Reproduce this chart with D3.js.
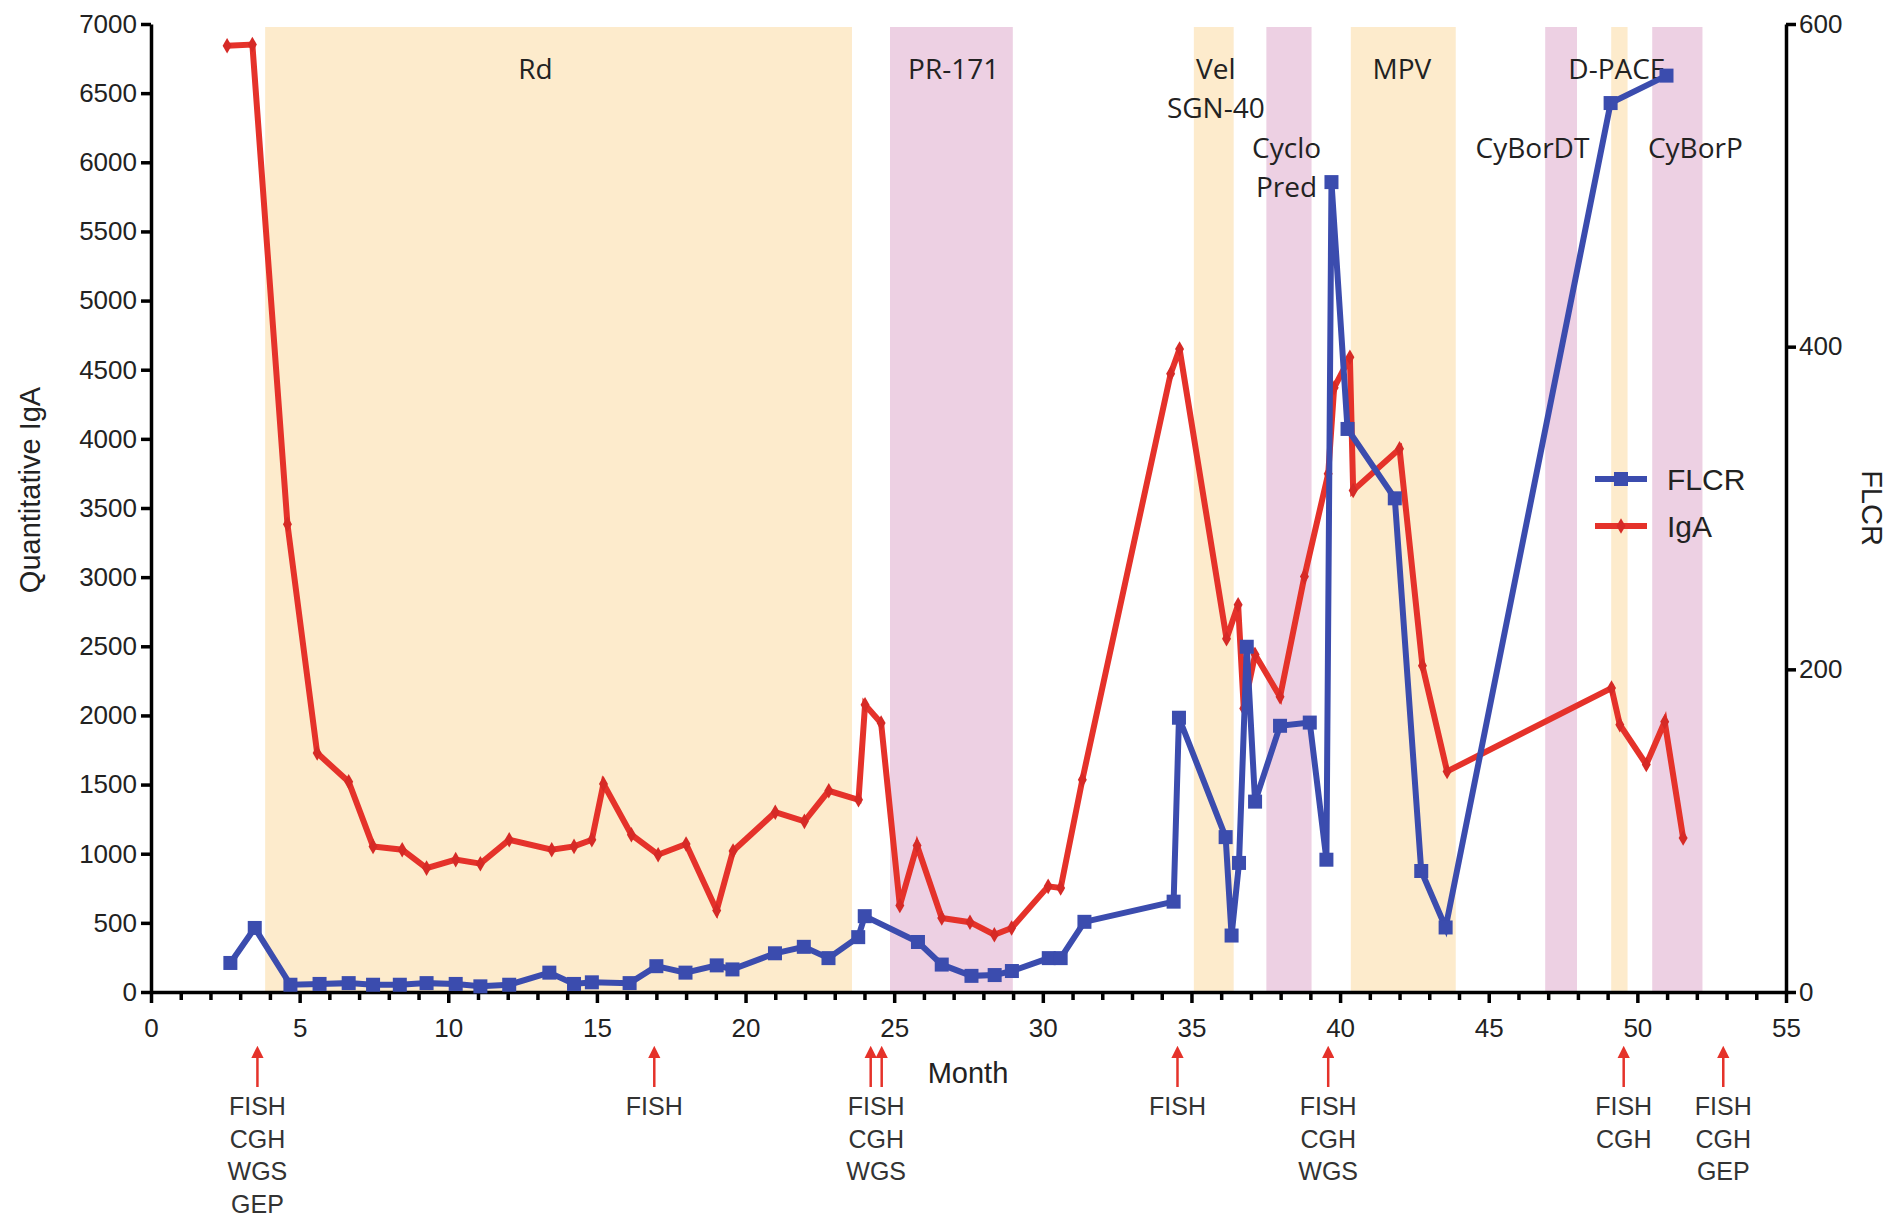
<!DOCTYPE html>
<html>
<head>
<meta charset="utf-8">
<script src="https://cdn.jsdelivr.net/npm/d3@7/dist/d3.min.js"></script>
<style>
  body { margin: 0; background: #fff; }
  svg { display: block; }
</style>
</head>
<body>
<svg id="chart"></svg>
<script>
// IgA (left axis) readings, month / value
var igaMonths = [2.56, 3.41, 4.59, 5.59, 6.65, 7.47, 8.45, 9.27, 10.25, 11.08, 12.05, 13.48, 14.23, 14.83, 15.22,
  16.16, 17.06, 18.0, 19.03, 19.58, 21.0, 21.98, 22.8, 23.8, 24.02, 24.56, 25.19, 25.77, 26.6, 27.55, 28.37,
  28.95, 30.18, 30.6, 31.33, 34.3, 34.6, 36.18, 36.57, 36.76, 37.14, 37.98, 38.8, 39.6, 39.8, 40.33, 40.44,
  42.0, 42.77, 43.6, 49.13, 49.41, 50.3, 50.92, 51.54];
var igaValues = [6843, 6851, 3382, 1728, 1520, 1053, 1029, 896, 957, 928, 1101, 1029, 1053, 1101, 1505,
  1137, 993, 1070, 590, 1020, 1300, 1234, 1455, 1390, 2077, 1945, 625, 1060, 535, 505, 414,
  463, 764, 752, 1535, 4470, 4650, 2555, 2800, 2050, 2440, 2135, 3005, 3747, 4370, 4590, 3627,
  3928, 2360, 1595, 2198, 1933, 1645, 1954, 1113];

// FLCR (right axis) readings
var flcrMonths = [2.67, 3.49, 4.69, 5.67, 6.65, 7.47, 8.37, 9.27, 10.25, 11.08, 12.05, 13.4, 14.23, 14.83,
  16.1, 17.0, 17.98, 19.03, 19.56, 20.99, 21.96, 22.79, 23.79, 24.01, 25.8, 26.6, 27.6, 28.38, 28.96, 30.2,
  30.6, 31.4, 34.4, 34.58, 36.15, 36.35, 36.6, 36.86, 37.14, 37.98, 38.98, 39.54, 39.71, 40.25, 41.84,
  42.73, 43.55, 49.1, 50.98];
var flcrValues = [18, 39.7, 4.5, 5, 5.5, 4.5, 4.5, 5.5, 5, 3.5, 4.5, 12, 5, 6,
  5.5, 16, 12, 16.5, 14, 24, 28, 21, 34, 47, 31, 17, 10, 10.5, 13, 21,
  21, 43.5, 56, 170, 96, 35, 80, 214, 118, 165, 167, 82, 502, 349, 306,
  75, 40, 551, 568];

// treatment regimens (month ranges)
var regimenNames = ["Rd", "PR-171", "Vel|SGN-40", "Cyclo|Pred", "MPV", "CyBorDT", "D-PACE", "CyBorP"];
var regimenStart = [3.84, 24.86, 35.08, 37.52, 40.36, 46.9, 49.12, 50.5];
var regimenEnd = [23.58, 28.99, 36.42, 39.04, 43.89, 47.97, 49.67, 52.19];
var regimenLabelMonth = [12.93, 27.0, 35.82, 38.2, 42.08, 46.47, 49.31, 51.95];
var regimenLabelRow = [0, 0, 0, 1, 0, 1, 0, 1];

// genomic sampling time points
var sampleMonths = [[3.58], [16.93], [24.21, 24.58], [34.53], [39.6], [49.54], [52.89]];
var sampleAssays = [["FISH", "CGH", "WGS", "GEP"], ["FISH"], ["FISH", "CGH", "WGS"], ["FISH"],
  ["FISH", "CGH", "WGS"], ["FISH", "CGH"], ["FISH", "CGH", "GEP"]];

var width = 1895, height = 1216;
var plotLeft = 151, plotRight = 1786, plotTop = 24, plotBottom = 992;
var tickFont = "'Liberation Sans', Arial, sans-serif";
var labelFont = "'Open Sans', 'Noto Sans', sans-serif";
var blue = "#3b4cae", red = "#e5322a";
var tan = "#fdebcc", pink = "#edd0e3";

var svg = d3.select("#chart")
    .attr("width", width)
    .attr("height", height)
    .style("font-family", tickFont);

var x = d3.scaleLinear().domain([0, 55]).range([plotLeft, plotRight]);
var yL = d3.scaleLinear().domain([0, 7000]).range([plotBottom, plotTop]);
var yR = d3.scaleLinear().domain([0, 600]).range([plotBottom, plotTop]);

// bands
svg.append("g").selectAll("rect")
    .data(regimenNames)
    .enter().append("rect")
    .attr("x", function(d, i) { return x(regimenStart[i]); })
    .attr("width", function(d, i) { return x(regimenEnd[i]) - x(regimenStart[i]); })
    .attr("y", plotTop + 3)
    .attr("height", plotBottom - plotTop - 3)
    .attr("fill", function(d, i) { return i % 2 == 0 ? tan : pink; });

// band labels
regimenNames.forEach(function(name, i) {
    var lines = name.split("|");
    var y0 = regimenLabelRow[i] == 0 ? 69 : 148;
    lines.forEach(function(line, j) {
        svg.append("text")
            .attr("x", x(regimenLabelMonth[i]))
            .attr("y", y0 + j * 39)
            .attr("dy", "0.36em")
            .attr("text-anchor", "middle")
            .style("font-family", labelFont)
            .style("font-size", "28px")
            .style("fill", "#222")
            .text(line);
    });
});

// axes
function styleAxis(g) {
    g.selectAll("path.domain").attr("stroke", "#000").attr("stroke-width", 3.5);
    g.selectAll(".tick line").attr("stroke", "#000").attr("stroke-width", 3.5);
    g.selectAll(".tick text").style("font-family", tickFont).style("font-size", "26px").style("fill", "#222");
}

var fmt = d3.format("d");

var gx = svg.append("g")
    .attr("transform", "translate(0," + plotBottom + ")")
    .call(d3.axisBottom(x).tickValues(d3.range(0, 56, 5)).tickFormat(fmt)
        .tickSize(11).tickSizeOuter(0).tickPadding(16));
styleAxis(gx);

var gxMinor = svg.append("g")
    .attr("transform", "translate(0," + plotBottom + ")")
    .call(d3.axisBottom(x).tickValues(d3.range(0, 56).filter(function(d) { return d % 5 != 0; }))
        .tickSize(8).tickSizeOuter(0).tickFormat(""));
styleAxis(gxMinor);
gxMinor.select("path.domain").remove();

var gyL = svg.append("g")
    .attr("transform", "translate(" + plotLeft + ",0)")
    .call(d3.axisLeft(yL).tickValues(d3.range(0, 7001, 500)).tickFormat(fmt)
        .tickSize(10).tickSizeOuter(0).tickPadding(4));
styleAxis(gyL);

var gyR = svg.append("g")
    .attr("transform", "translate(" + plotRight + ",0)")
    .call(d3.axisRight(yR).tickValues([0, 200, 400, 600]).tickFormat(fmt)
        .tickSize(10).tickSizeOuter(0).tickPadding(3));
styleAxis(gyR);

// axis titles
svg.append("text")
    .attr("transform", "translate(30," + 490 + ") rotate(-90)")
    .attr("text-anchor", "middle")
    .attr("dy", "0.36em")
    .style("font-size", "29px")
    .style("fill", "#222")
    .text("Quantitative IgA");

svg.append("text")
    .attr("transform", "translate(1872," + 508 + ") rotate(90)")
    .attr("text-anchor", "middle")
    .attr("dy", "0.36em")
    .style("font-size", "29px")
    .style("fill", "#222")
    .text("FLCR");

svg.append("text")
    .attr("x", 968)
    .attr("y", 1073)
    .attr("dy", "0.36em")
    .attr("text-anchor", "middle")
    .style("font-size", "29px")
    .style("fill", "#222")
    .text("Month");

// series
var igaData = igaMonths.map(function(m, i) { return [m, igaValues[i]]; });
var flcrData = flcrMonths.map(function(m, i) { return [m, flcrValues[i]]; });

var igaLine = d3.line().x(function(d) { return x(d[0]); }).y(function(d) { return yL(d[1]); });
var flcrLine = d3.line().x(function(d) { return x(d[0]); }).y(function(d) { return yR(d[1]); });

svg.append("path")
    .datum(igaData)
    .attr("d", igaLine)
    .attr("fill", "none")
    .attr("stroke", red)
    .attr("stroke-width", 6)
    .attr("stroke-linejoin", "miter");

svg.append("g").selectAll("path")
    .data(igaData)
    .enter().append("path")
    .attr("d", d3.symbol().type(d3.symbolDiamond).size(70))
    .attr("transform", function(d) { return "translate(" + x(d[0]) + "," + yL(d[1]) + ")"; })
    .attr("fill", "#d62a26");

svg.append("path")
    .datum(flcrData)
    .attr("d", flcrLine)
    .attr("fill", "none")
    .attr("stroke", blue)
    .attr("stroke-width", 6)
    .attr("stroke-linejoin", "miter");

svg.append("g").selectAll("rect")
    .data(flcrData)
    .enter().append("rect")
    .attr("x", function(d) { return x(d[0]) - 7; })
    .attr("y", function(d) { return yR(d[1]) - 7; })
    .attr("width", 14)
    .attr("height", 14)
    .attr("fill", blue);

// legend
var legend = svg.append("g");
legend.append("line").attr("x1", 1595).attr("x2", 1647).attr("y1", 479).attr("y2", 479)
    .attr("stroke", blue).attr("stroke-width", 6);
legend.append("rect").attr("x", 1614).attr("y", 472).attr("width", 14).attr("height", 14).attr("fill", blue);
legend.append("text").attr("x", 1667).attr("y", 479).attr("dy", "0.36em")
    .style("font-size", "30px").style("fill", "#222").text("FLCR");
legend.append("line").attr("x1", 1595).attr("x2", 1647).attr("y1", 526).attr("y2", 526)
    .attr("stroke", red).attr("stroke-width", 6);
legend.append("path").attr("d", d3.symbol().type(d3.symbolDiamond).size(70))
    .attr("transform", "translate(1621,526)").attr("fill", "#d62a26");
legend.append("text").attr("x", 1667).attr("y", 526).attr("dy", "0.36em")
    .style("font-size", "30px").style("fill", "#222").text("IgA");

// sampling arrows + assay labels
svg.append("defs").append("marker")
    .attr("id", "head")
    .attr("viewBox", "0 0 10 10")
    .attr("refX", 5).attr("refY", 5)
    .attr("markerWidth", 5).attr("markerHeight", 5)
    .attr("orient", "auto")
    .append("path").attr("d", "M0,0 L10,5 L0,10 z").attr("fill", red);

sampleMonths.forEach(function(months, i) {
    months.forEach(function(m) {
        svg.append("line")
            .attr("x1", x(m)).attr("x2", x(m))
            .attr("y1", 1087).attr("y2", 1052)
            .attr("stroke", red)
            .attr("stroke-width", 2.5)
            .attr("marker-end", "url(#head)");
    });
    var cx = d3.mean(months, function(m) { return x(m); });
    sampleAssays[i].forEach(function(assay, j) {
        svg.append("text")
            .attr("x", cx)
            .attr("y", 1106 + j * 32.5)
            .attr("dy", "0.36em")
            .attr("text-anchor", "middle")
            .style("font-size", "25px")
            .style("fill", "#333")
            .text(assay);
    });
});
</script>
</body>
</html>
